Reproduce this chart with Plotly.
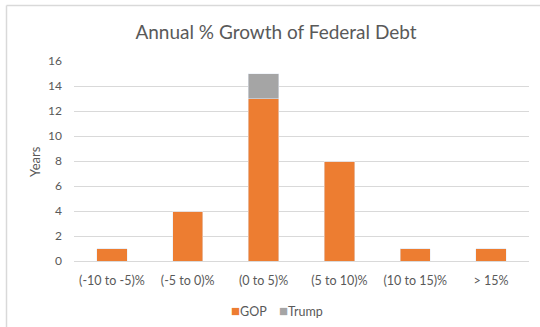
import plotly.graph_objects as go

# Distribution of annual federal debt growth rates
categories = ["(-10 to -5)%", "(-5 to 0)%", "(0 to 5)%", "(5 to 10)%", "(10 to 15)%", "> 15%"]
gop_years = [1, 4, 13, 8, 1, 1]
trump_years = [0, 0, 2, 0, 0, 0]
series_names = ["GOP", "Trump"]
series_colors = ["#ED7D31", "#A5A5A5"]

W, H = 540, 327
L, R, T, B = 74, 11, 61, 66
pw, ph = W - L - R, H - T - B


def px_to_paper_x(px):
    return (px - L) / pw


def px_to_paper_y(py):
    return (H - B - py) / ph


text_color = "#595959"
font_family = "Lato, Calibri, 'Liberation Sans', sans-serif"

fig = go.Figure()
for name, vals, color in zip(series_names, [gop_years, trump_years], series_colors):
    fig.add_trace(go.Bar(name=name, x=categories, y=vals, marker_color=color))

fig.update_layout(
    width=W,
    height=H,
    barmode="stack",
    bargap=0.6,
    margin=dict(l=L, r=R, t=T, b=B, autoexpand=False),
    paper_bgcolor="white",
    plot_bgcolor="white",
    font=dict(family=font_family, size=12, color=text_color),
    title=dict(
        text="Annual % Growth of Federal Debt",
        x=276 / W,
        xanchor="center",
        y=1 - 32.5 / H,
        yanchor="middle",
        font=dict(size=19, color=text_color, family=font_family),
    ),
    showlegend=False,
)

fig.update_xaxes(
    showgrid=False,
    showline=False,
    ticks="",
    tickfont=dict(size=12.5, color=text_color),
    ticklabelstandoff=10,
)
fig.update_yaxes(
    range=[0, 16],
    dtick=2,
    showgrid=True,
    gridcolor="#D9D9D9",
    gridwidth=1,
    zeroline=True,
    zerolinecolor="#D9D9D9",
    zerolinewidth=1,
    showline=False,
    ticks="",
    tickfont=dict(size=12, color=text_color),
    ticklabelstandoff=11,
)

# Axis title
fig.add_annotation(
    text="Years",
    xref="paper",
    yref="paper",
    x=px_to_paper_x(35),
    y=px_to_paper_y(162),
    textangle=-90,
    showarrow=False,
    font=dict(size=13, color=text_color),
    xanchor="center",
    yanchor="middle",
)

# Legend entries below the plot
legend_left = [229, 277]
for name, color, left in zip(series_names, series_colors, legend_left):
    fig.add_annotation(
        text=f"<span style='color:{color};font-size:15px'>■</span>{name}",
        xref="paper",
        yref="paper",
        x=px_to_paper_x(left),
        y=px_to_paper_y(310),
        xanchor="left",
        yanchor="middle",
        showarrow=False,
        font=dict(size=12.5, color=text_color),
    )

# Chart frame edges
frame_color = "#D9D9D9"
fig.add_shape(type="line", xref="paper", yref="paper",
              x0=px_to_paper_x(6.5), x1=px_to_paper_x(560),
              y0=px_to_paper_y(5.5), y1=px_to_paper_y(5.5),
              line=dict(color=frame_color, width=1.5))
fig.add_shape(type="line", xref="paper", yref="paper",
              x0=px_to_paper_x(6.5), x1=px_to_paper_x(6.5),
              y0=px_to_paper_y(5.5), y1=px_to_paper_y(340),
              line=dict(color=frame_color, width=1.5))

fig.write_html("out.html")
